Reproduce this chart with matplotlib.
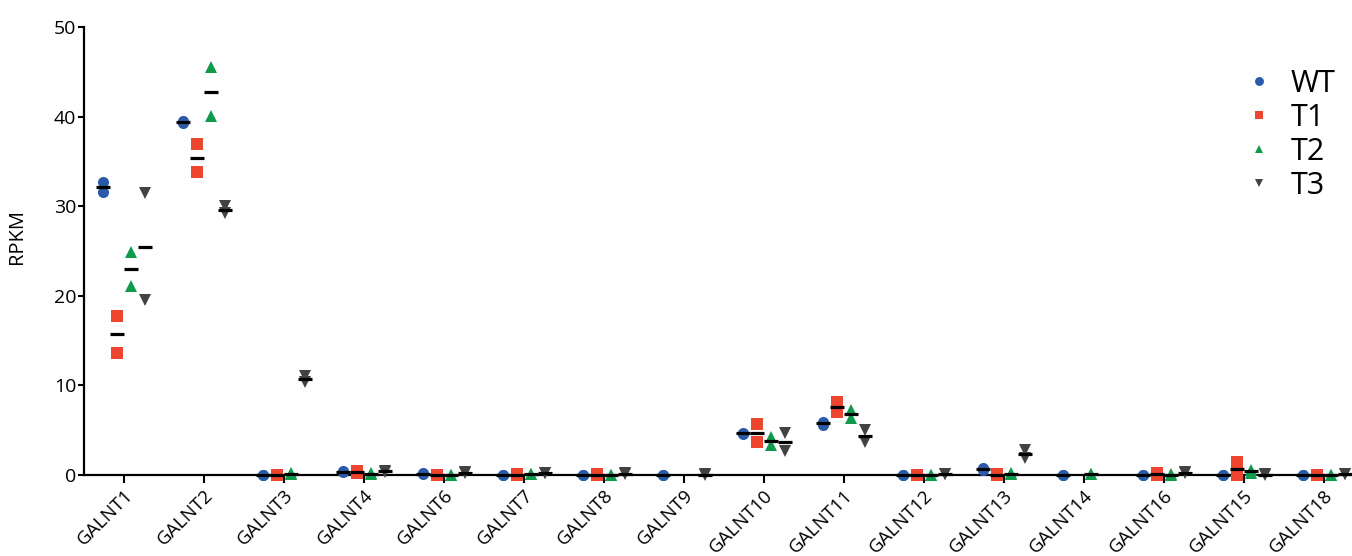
import numpy as np
import matplotlib
matplotlib.use("Agg")
import matplotlib.pyplot as plt

plt.rcParams['font.family'] = ['Open Sans', 'DejaVu Sans']

genes = ['GALNT1', 'GALNT2', 'GALNT3', 'GALNT4', 'GALNT6', 'GALNT7', 'GALNT8', 'GALNT9',
         'GALNT10', 'GALNT11', 'GALNT12', 'GALNT13', 'GALNT14', 'GALNT16', 'GALNT15', 'GALNT18']

nan = np.nan
# two replicates per gene, RPKM
wt = [[32.7, 31.6], [39.5, 39.3], [0.0, 0.0], [0.4, 0.3], [0.2, 0.1], [0.0, 0.0], [0.0, 0.0], [0.0, 0.0],
      [4.7, 4.6], [5.9, 5.6], [0.0, 0.0], [0.8, 0.6], [0.0, 0.0], [0.0, 0.0], [0.0, 0.0], [0.0, 0.0]]
t1 = [[17.8, 13.6], [36.9, 33.8], [0.0, 0.0], [0.4, 0.2], [0.0, 0.0], [0.1, 0.0], [0.1, 0.0], [nan, nan],
      [5.7, 3.7], [8.1, 7.0], [0.0, 0.0], [0.1, 0.0], [nan, nan], [0.2, 0.0], [1.4, 0.0], [0.0, 0.0]]
t2 = [[24.9, 21.1], [45.5, 40.1], [0.2, 0.1], [0.2, 0.1], [0.0, 0.0], [0.1, 0.1], [0.0, 0.0], [nan, nan],
      [4.2, 3.3], [7.3, 6.4], [0.0, 0.0], [0.2, 0.1], [0.1, 0.1], [0.1, 0.0], [0.6, 0.2], [0.0, 0.0]]
t3 = [[31.5, 19.5], [30.0, 29.2], [11.0, 10.4], [0.5, 0.3], [0.3, 0.2], [0.2, 0.2], [0.2, 0.1], [0.1, 0.0],
      [4.7, 2.7], [5.0, 3.7], [0.1, 0.1], [2.8, 1.9], [nan, nan], [0.3, 0.2], [0.1, 0.0], [0.1, 0.1]]

series = [('WT', wt, 'o', '#2b5ba8'),
          ('T1', t1, 's', '#ee4530'),
          ('T2', t2, '^', '#0f9b4a'),
          ('T3', t3, 'v', '#424242')]
offsets = [-0.265, -0.09, 0.09, 0.265]

fig = plt.figure(figsize=(13.52, 5.56), dpi=100)
ax = fig.add_axes([84 / 1352, 81 / 556, 1 - 84 / 1352, 448 / 556])

x = np.arange(len(genes))
for (name, vals, mk, col), off in zip(series, offsets):
    vals = np.array(vals)
    for r in range(vals.shape[1]):
        ax.plot(x + off, vals[:, r], linestyle='none', marker=mk, color=col, markersize=8,
                markeredgewidth=0, clip_on=False, zorder=3,
                label=name if r == 0 else None)
    means = vals.mean(axis=1)
    ax.plot(x + off, means, linestyle='none', marker='_', color='black', markersize=10,
            markeredgewidth=2.3, clip_on=False, zorder=4)

ax.set_xlim(-0.5, 15.35)
ax.set_ylim(0, 50)
ax.set_yticks([0, 10, 20, 30, 40, 50])
ax.set_xticks(x)
ax.set_xticklabels(genes, rotation=45, ha='right', rotation_mode='anchor', fontsize=13.5)
ax.tick_params(axis='y', labelsize=14, length=4.5, width=1.5, pad=1)
ax.tick_params(axis='x', length=6, width=1.5, pad=2)
ax.set_ylabel('RPKM', fontsize=14.5)
ax.yaxis.set_label_coords(-0.045, 0.533)

for s in ['top', 'right']:
    ax.spines[s].set_visible(False)
for s in ['left', 'bottom']:
    ax.spines[s].set_linewidth(1.6)

leg = ax.legend(loc='upper left', bbox_to_anchor=(1244 / 1352, 1 - 69 / 556),
                bbox_transform=fig.transFigure, frameon=False, fontsize=22,
                markerscale=0.8, handlelength=1.0, handletextpad=0.52, labelspacing=0.13,
                borderpad=0, borderaxespad=0)

fig.savefig('out.png', dpi=100)
